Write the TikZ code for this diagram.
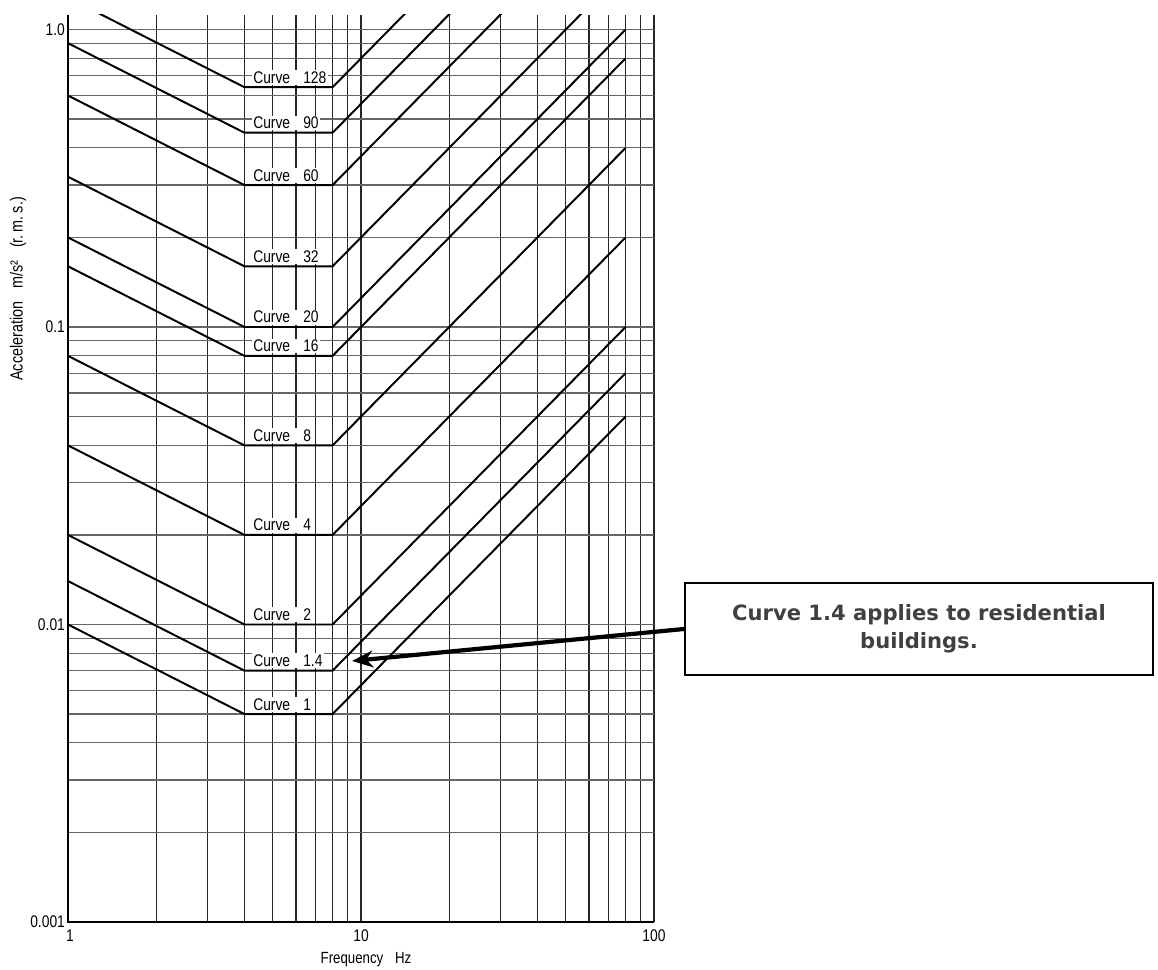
\documentclass[tikz,border=0pt]{standalone}
\usepackage{fontspec}
\newfontfamily\chartfont[FakeStretch=0.82]{Liberation Sans}
\newfontfamily\notefont{DejaVu Sans}
\usetikzlibrary{arrows.meta}

\tikzset{
  vgrid/.style={line width=0.9pt, black!85},
  hgrid/.style={line width=0.8pt, black!60},
  curve/.style={line width=1.4pt, black},
  curvelabel/.style={anchor=base west, xshift=0.18cm, yshift=0.1cm, fill=white, inner sep=1pt, font=\chartfont\fontsize{12}{13}\selectfont},
  ticklabel/.style={inner sep=0pt, font=\chartfont\fontsize{12}{13}\selectfont},
  notebox/.style={draw, line width=1.4pt, minimum width=11.7cm, minimum height=2.3cm, align=center, text=black!75, font=\notefont\bfseries\fontsize{15}{20}\selectfont},
  callarrow/.style={line width=3pt, -{Stealth[length=15pt,width=12pt]}}
}

\begin{document}
\begin{tikzpicture}[x=7.325cm, y=7.4375cm]
        \useasboundingbox (-0.23208,-0.16134) rectangle (3.72014,3.09916);

        \foreach \f in {2,3,4,5,6,7,8,9,10,20,30,40,50,60,70,80,90,100}
            \draw[vgrid] ({log10(\f)},0) -- ({log10(\f)},3.05);
        \foreach \d in {0,1,2}
            \foreach \k in {2,3,4,5,6,7,8,9}
                \draw[hgrid] (0,{\d+log10(\k)}) -- (2,{\d+log10(\k)});
        \foreach \d in {1,2,3}
            \draw[hgrid] (0,\d) -- (2,\d);
        \draw[line width=1.3pt] (0,3.05) -- (0,0) -- (2,0);

        \begin{scope}
        \clip (0,0) rectangle (2,3.05);
        \draw[curve] (0,1.000) -- (0.602,0.699) -- (0.903,0.699) -- (1.903,1.699);
        \draw[curve] (0,1.146) -- (0.602,0.845) -- (0.903,0.845) -- (1.903,1.845);
        \draw[curve] (0,1.301) -- (0.602,1.000) -- (0.903,1.000) -- (1.903,2.000);
        \draw[curve] (0,1.602) -- (0.602,1.301) -- (0.903,1.301) -- (1.903,2.301);
        \draw[curve] (0,1.903) -- (0.602,1.602) -- (0.903,1.602) -- (1.903,2.602);
        \draw[curve] (0,2.204) -- (0.602,1.903) -- (0.903,1.903) -- (1.903,2.903);
        \draw[curve] (0,2.301) -- (0.602,2.000) -- (0.903,2.000) -- (1.903,3.000);
        \draw[curve] (0,2.505) -- (0.602,2.204) -- (0.903,2.204) -- (1.903,3.204);
        \draw[curve] (0,2.778) -- (0.602,2.477) -- (0.903,2.477) -- (1.903,3.477);
        \draw[curve] (0,2.954) -- (0.602,2.653) -- (0.903,2.653) -- (1.903,3.653);
        \draw[curve] (0,3.107) -- (0.602,2.806) -- (0.903,2.806) -- (1.903,3.806);
        \end{scope}

        \node[curvelabel] (c1) at (0.602,0.699) {Curve\hspace{0.55em} 1};
        \node[curvelabel] (c14) at (0.602,0.845) {Curve\hspace{0.55em} 1.4};
        \node[curvelabel] (c2) at (0.602,1.000) {Curve\hspace{0.55em} 2};
        \node[curvelabel] (c4) at (0.602,1.301) {Curve\hspace{0.55em} 4};
        \node[curvelabel] (c8) at (0.602,1.602) {Curve\hspace{0.55em} 8};
        \node[curvelabel] (c16) at (0.602,1.903) {Curve\hspace{0.55em} 16};
        \node[curvelabel] (c20) at (0.602,2.000) {Curve\hspace{0.55em} 20};
        \node[curvelabel] (c32) at (0.602,2.204) {Curve\hspace{0.55em} 32};
        \node[curvelabel] (c60) at (0.602,2.477) {Curve\hspace{0.55em} 60};
        \node[curvelabel] (c90) at (0.602,2.653) {Curve\hspace{0.55em} 90};
        \node[curvelabel] (c128) at (0.602,2.806) {Curve\hspace{0.55em} 128};

        \node[ticklabel, anchor=east, xshift=-2pt] (a1) at (0,3) {1.0};
        \node[ticklabel, anchor=east, xshift=-2pt] (a01) at (0,2) {0.1};
        \node[ticklabel, anchor=east, xshift=-2pt] (a001) at (0,1) {0.01};
        \node[ticklabel, anchor=east, xshift=-2pt] (a0001) at (0,0) {0.001};
        \node[ticklabel, anchor=base] (f1) at (0.007,-0.067) {1};
        \node[ticklabel, anchor=base] (f10) at (1,-0.067) {10};
        \node[ticklabel, anchor=base] (f100) at (2,-0.067) {100};

        \node[anchor=base, inner sep=0pt, font=\chartfont\fontsize{11.5}{12}\selectfont] (xtitle) at (1.017,-0.138) {Frequency\enspace{} Hz};
        \node[rotate=90, inner sep=0pt, font=\chartfont\fontsize{12.5}{13}\selectfont] (ytitle) at (-0.1706,2.128) {Acceleration\enspace{} m/s²\enspace{} (r.\,m.\,s.)};

        \node[notebox] (note) at (2.9044,0.9849) {Curve 1.4 applies to residential\\buildings.};
        \coordinate (tip) at (0.9693,0.8773);
        \draw[callarrow] (note.west) -- (tip);
\end{tikzpicture}
\end{document}
